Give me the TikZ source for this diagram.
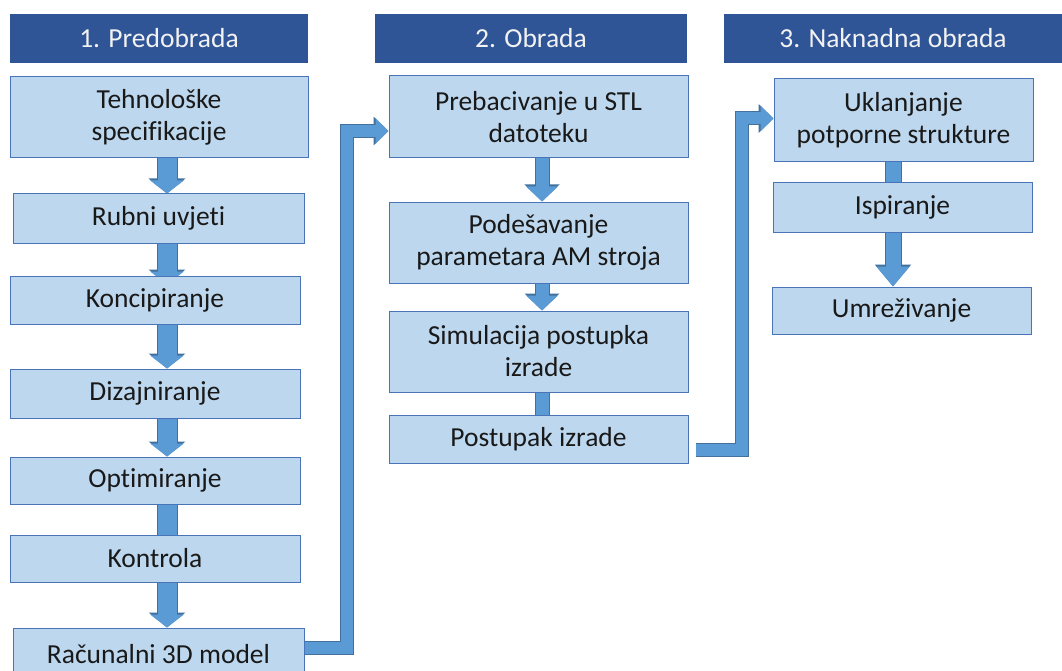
\documentclass[tikz,border=0pt]{standalone}
\usepackage{fontspec}
\setmainfont{Carlito}[Ligatures={NoCommon}]
\usetikzlibrary{arrows.meta,backgrounds,calc}
\definecolor{hdr}{HTML}{2F5597}
\definecolor{boxfill}{HTML}{BDD7EE}
\definecolor{boxedge}{HTML}{4A74B8}
\definecolor{arr}{HTML}{5B9BD5}
\definecolor{arredge}{HTML}{41719C}
\begin{document}
\begin{tikzpicture}[x=1pt,y=-1pt,
  hdrbox/.style={draw=none, fill=hdr, text=white!95!black, minimum height=49pt, inner sep=0pt, font=\fontsize{27.5}{33}\selectfont},
  pbox/.style={draw=boxedge, line width=1pt, fill=boxfill, inner sep=0pt, align=center, font=\fontsize{27.5}{32}\selectfont, text=black!90},
  varrL/.style={draw=arr, line width=19pt, -{Triangle[width=33pt,length=13pt]},
     preaction={draw=arredge, line width=21pt, -{Triangle[width=36pt,length=15pt]}}},
  varrM/.style={draw=arr, line width=13pt, -{Triangle[width=31pt,length=15pt]},
     preaction={draw=arredge, line width=15pt, -{Triangle[width=34pt,length=17pt]}}},
  varrR/.style={draw=arr, line width=15pt, -{Triangle[width=32pt,length=20pt]},
     preaction={draw=arredge, line width=17pt, -{Triangle[width=35pt,length=22pt]}}},
  vlinL/.style={draw=arr, line width=19pt, preaction={draw=arredge, line width=21pt}},
  vlinM/.style={draw=arr, line width=13pt, preaction={draw=arredge, line width=15pt}},
  vlinR/.style={draw=arr, line width=15pt, preaction={draw=arredge, line width=17pt}},
  elbow/.style={draw=arr, line width=12pt, line join=miter, -{Triangle[width=25pt,length=13pt]},
     preaction={draw=arredge, line width=14pt, line join=miter, -{Triangle[width=28pt,length=15pt]}}}
]
\useasboundingbox (0,0) rectangle (1062,671);
\clip (0,0) rectangle (1062,671);

% headers
\node[hdrbox, minimum width=298pt] (h1) at (159,38.5) {1. Predobrada};
\node[hdrbox, minimum width=312pt] (h2) at (531,38.5) {2. Obrada};
\node[hdrbox, minimum width=338pt] (h3) at (893,38.5) {3. Naknadna obrada};

% left column
\node[pbox, minimum width=298pt, minimum height=81pt] (t1) at (159,117.5) {Tehnološke\\specifikacije};
\node[pbox, minimum width=291pt, minimum height=49pt] (t2) at (158.5,218.5) {Rubni uvjeti};
\node[pbox, minimum width=290pt, minimum height=48pt] (t3) at (155,300) {Koncipiranje};
\node[pbox, minimum width=290pt, minimum height=49pt] (t4) at (155,393.5) {Dizajniranje};
\node[pbox, minimum width=290pt, minimum height=47pt] (t5) at (155,480.5) {Optimiranje};
\node[pbox, minimum width=290pt, minimum height=47pt] (t6) at (155,558.5) {Kontrola};
\node[pbox, minimum width=291pt, minimum height=52pt] (t7) at (158.5,654) {Računalni 3D model};

% middle column
\node[pbox, minimum width=299pt, minimum height=82pt] (m1) at (538.5,117) {Prebacivanje u STL\\datoteku};
\node[pbox, minimum width=299pt, minimum height=81pt] (m2) at (538.5,242.5) {Podešavanje\\parametara AM stroja};
\node[pbox, minimum width=299pt, minimum height=81pt] (m3) at (538.5,351.5) {Simulacija postupka\\izrade};
\node[pbox, minimum width=299pt, minimum height=48pt] (m4) at (538.5,439) {Postupak izrade};

% right column
\node[pbox, minimum width=259pt, minimum height=83pt] (r1) at (903.5,120.5) {Uklanjanje\\potporne strukture};
\node[pbox, minimum width=259pt, minimum height=49pt] (r2) at (902.5,207.5) {Ispiranje};
\node[pbox, minimum width=259pt, minimum height=47pt] (r3) at (901.5,310.5) {Umreživanje};

\coordinate (ax) at (167,0);
\coordinate (mx) at (542,0);
\coordinate (rx) at (893,0);

\begin{scope}[on background layer]
  \fill[white] (0,0) rectangle (1062,671);
  \draw[varrL] (t1.south -| ax) -- (t2.north -| ax);
  \draw[varrL] (t2.south -| ax) -- ([yshift=-9pt]t3.north -| ax);
  \draw[varrL] (t3.south -| ax) -- (t4.north -| ax);
  \draw[varrL] (t4.south -| ax) -- (t5.north -| ax);
  \draw[vlinL] (t5.south -| ax) -- (t6.north -| ax);
  \draw[varrL] (t6.south -| ax) -- (t7.north -| ax);

  \draw[varrM] (m1.south -| mx) -- (m2.north -| mx);
  \draw[varrM] (m2.south -| mx) -- (m3.north -| mx);
  \draw[vlinM] (m3.south -| mx) -- (m4.north -| mx);

  \draw[vlinR] (r1.south -| rx) -- (r2.north -| rx);
  \draw[varrR] (r2.south -| rx) -- (r3.north -| rx);

  \draw[elbow] ([yshift=6pt]t7.east) -- ++(42,0) |- ([yshift=-14pt]m1.west);
  \draw[elbow] ([xshift=7pt,yshift=-11pt]m4.east) -- ++(46,0) |- ([yshift=2pt]r1.west);
\end{scope}
\end{tikzpicture}
\end{document}
